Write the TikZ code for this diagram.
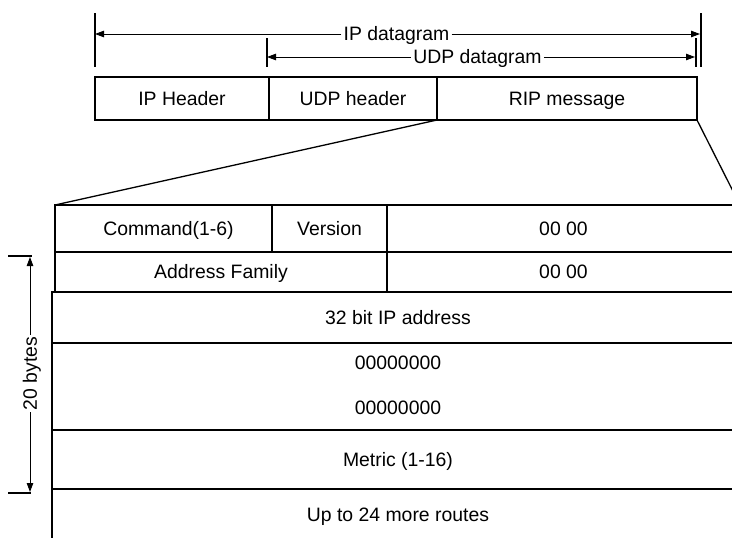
\documentclass[tikz,border=0pt]{standalone}
\usepackage{fontspec}
\setmainfont{Liberation Sans}
\usetikzlibrary{arrows.meta}
\begin{document}
\begin{tikzpicture}[x=1pt,y=-1pt,
  every node/.style={font=\fontsize{19.4}{22}\selectfont, text=black},
  txt/.style={text height=13.9pt, text depth=0pt},
  cell/.style={draw, line width=1.3pt, inner sep=0pt, outer sep=0pt, txt},
  lbl/.style={inner xsep=2pt, inner ysep=0pt, fill=white, txt},
  dim/.style={line width=0.9pt, -{Triangle[length=9pt,width=6.5pt]}},
  tick/.style={line width=2.2pt},
  zoomline/.style={line width=1.3pt}]
\useasboundingbox (0,0) rectangle (732,538);
\clip (0,0) rectangle (732,538);
% top boxes
\node[cell, minimum width=174pt, minimum height=43pt] (iph) at (182,98.5) {IP Header};
\node[cell, minimum width=168pt, minimum height=43pt] (udph) at (353,98.5) {UDP header};
\node[cell, minimum width=260pt, minimum height=43pt] (rip) at (567,98.5) {RIP message};
% dimension ticks
\coordinate (ipLt) at (95,13); \coordinate (ipLb) at (95,67);
\coordinate (ipRt) at (701,13); \coordinate (ipRb) at (701,67);
\coordinate (udLt) at (267,38); \coordinate (udLb) at (267,67);
\coordinate (udRt) at (696,38); \coordinate (udRb) at (696,67);
\draw[tick] (ipLt) -- (ipLb);
\draw[tick] (ipRt) -- (ipRb);
\draw[tick] (udLt) -- (udLb);
\draw[tick] (udRt) -- (udRb);
\coordinate (ipL) at (95,34); \coordinate (ipR) at (700,34);
\coordinate (udL) at (267,57); \coordinate (udR) at (695,57);
\node[lbl] (ipdg) at (396.5,34) {IP datagram};
\node[lbl] (uddg) at (477.5,57) {UDP datagram};
\draw[dim] (ipdg) -- (ipL);
\draw[dim] (ipdg) -- (ipR);
\draw[dim] (uddg) -- (udL);
\draw[dim] (uddg) -- (udR);
% table
\node[cell, minimum width=217pt, minimum height=47pt] (cmd) at (163.5,228.5) {\hspace*{10pt}Command(1-6)};
\node[cell, minimum width=115pt, minimum height=47pt] (ver) at (329.5,228.5) {Version};
\node[cell, minimum width=353pt, minimum height=47pt] (za) at (563.5,228.5) {00 00};
\node[cell, minimum width=332pt, minimum height=40pt] (af) at (221,272) {Address Family};
\node[cell, minimum width=353pt, minimum height=40pt] (zb) at (563.5,272) {00 00};
\node[cell, minimum width=692pt, minimum height=51pt] (ipa) at (398,317.5) {32 bit IP address};
\node[cell, minimum width=692pt, minimum height=87pt] (zr) at (398,386.5) {};
\node[txt] (zc) at (398,363) {00000000};
\node[txt] (zd) at (398,408) {00000000};
\node[cell, minimum width=692pt, minimum height=59pt] (met) at (398,459.5) {Metric (1-16)};
\node[cell, minimum width=692pt, minimum height=52pt] (more) at (398,515) {Up to 24 more routes};
% zoom lines
\draw[zoomline] (rip.south west) -- (cmd.north west);
\draw[zoomline] (rip.south east) -- (za.north east);
% 20 bytes
\coordinate (bt1) at (8,256); \coordinate (bt2) at (32,256);
\coordinate (bb1) at (8,493); \coordinate (bb2) at (31,493);
\draw[tick] (bt1) -- (bt2);
\draw[tick] (bb1) -- (bb2);
\coordinate (bT) at (30,257); \coordinate (bB) at (30,492);
\node[lbl, rotate=90] (bytes) at (30,373.5) {20 bytes};
\draw[dim] (bytes) -- (bT);
\draw[dim] (bytes) -- (bB);
\end{tikzpicture}
\end{document}
